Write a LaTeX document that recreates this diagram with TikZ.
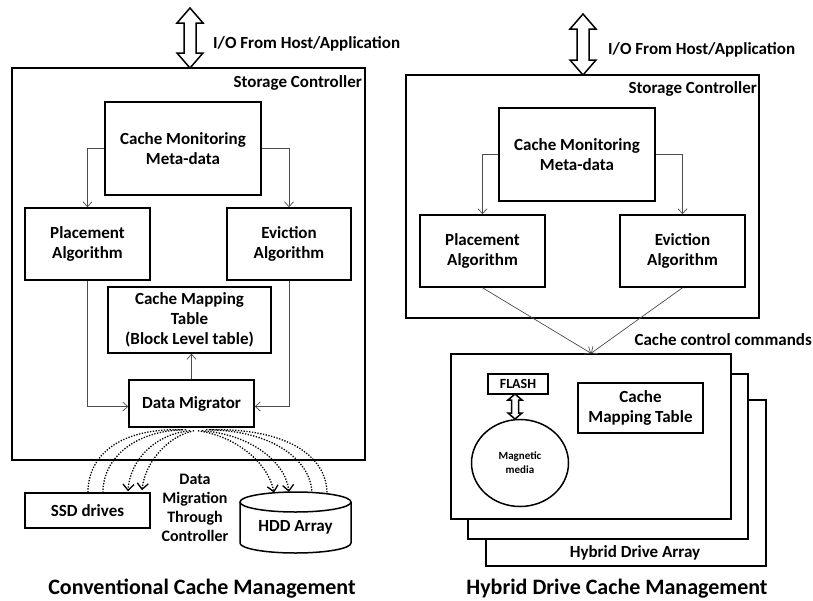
\documentclass[tikz,border=0pt]{standalone}
\usepackage{fontspec}
\setmainfont{Carlito}
\usetikzlibrary{arrows.meta,calc,shapes.geometric}
\tikzset{
  box/.style={draw, line width=1.5pt, align=center, inner sep=0pt, fill=white,
              font=\fontsize{17}{20}\selectfont\bfseries},
  lbl/.style={inner sep=0pt, align=center, font=\fontsize{17}{20}\selectfont\bfseries},
  ttl/.style={inner sep=0pt, font=\fontsize{22}{26}\selectfont\bfseries},
  arr/.style={draw=black!70, line width=0.7pt, -{Straight Barb[length=5pt,width=9pt]}},
  dots/.style={line width=1.3pt, dash pattern=on 1.3pt off 1.5pt},
  dotarr/.style={dots, -{Straight Barb[length=6pt,width=11pt]}},
  dblstyle/.style={draw, line width=1.5pt, fill=white, line join=miter},
}
% x, ytop, ybottom, half head width, half shaft width, head length
\newcommand\dblarr[6]{%
  \draw[dblstyle] (#1,#2) -- (#1+#4,#2+#6) -- (#1+#5,#2+#6) -- (#1+#5,#3-#6)
    -- (#1+#4,#3-#6) -- (#1,#3) -- (#1-#4,#3-#6) -- (#1-#5,#3-#6)
    -- (#1-#5,#2+#6) -- (#1-#4,#2+#6) -- cycle;}
\begin{document}
\begin{tikzpicture}[x=1pt,y=-1pt]
\useasboundingbox (0,0) rectangle (813,600);
% ================= LEFT =================
\node[box, minimum width=353, minimum height=392] (ctrlL) at (188.5,264) {};
\dblarr{190}{8}{68}{13}{6}{15}
\node[lbl, anchor=west] (ioL) at (213,44) {I/O From Host/Application};
\node[lbl, anchor=east] (scL) at (362,83) {Storage Controller};
\node[box, minimum width=156, minimum height=93] (cmmL) at (183,148.5) {Cache Monitoring\\Meta-data};
\node[box, minimum width=125, minimum height=72] (plL) at (87.5,244) {Placement\\Algorithm};
\node[box, minimum width=124, minimum height=72] (evL) at (289,244) {Eviction\\Algorithm};
\node[box, minimum width=163, minimum height=66] (cmtL) at (189.5,320) {Cache Mapping\\Table\\(Block Level table)};
\node[box, minimum width=125, minimum height=47] (dmL) at (191.5,403.5) {Data Migrator};
\draw[arr] (cmmL.west) -| (plL.north);
\draw[arr] (cmmL.east) -| (evL.north);
\draw[arr] (plL.south) |- ($(dmL.west)+(0,3)$);
\draw[arr] (evL.south) |- ($(dmL.east)+(0,3)$);
\draw[arr] (dmL.north) -- (dmL.north |- cmtL.south);
% drives
\node[box, minimum width=125, minimum height=35] (ssd) at (87.5,510.5) {SSD drives};
\draw[line width=1.5pt, fill=white] (240,502) -- (240,543) arc[start angle=180, end angle=0, x radius=55.5, y radius=10] -- (351,502);
\draw[line width=1.5pt] (295.5,502) ellipse[x radius=55.5, y radius=10];
\node[lbl, minimum width=111, minimum height=61] (hdd) at (295.5,527) {HDD Array};
\node[lbl, font=\fontsize{16}{19}\selectfont\bfseries] (dmtxt) at (195,508) {Data\\Migration\\Through\\Controller};
% dotted migration curves
\draw[dots] ($(dmL.south)+(-9.5,2)$) .. controls (120,428) and (88,455) .. ($(ssd.north)+(0.5,0)$);
\draw[dots] ($(dmL.south)+(-5.5,2)$) .. controls (135,430) and (103,458) .. ($(ssd.north)+(15.5,0)$);
\draw[dotarr] ($(dmL.south)+(-1.5,3)$) .. controls (155,434) and (130,460) .. ($(ssd.north)+(40.5,-1)$);
\draw[dotarr] ($(dmL.south)+(2.5,3)$) .. controls (168,436) and (145,462) .. ($(ssd.north)+(54.5,-2)$);
\draw[dotarr] ($(dmL.south)+(6.5,3)$) .. controls (235,436) and (268,462) .. ($(hdd.north)+(-21.5,-3.7)$);
\draw[dotarr] ($(dmL.south)+(10.5,3)$) .. controls (248,434) and (285,460) .. ($(hdd.north)+(-6.5,-4.4)$);
\draw[dots] ($(dmL.south)+(14.5,2)$) .. controls (270,430) and (310,458) .. ($(hdd.north)+(16.5,-4)$);
\draw[dots] ($(dmL.south)+(18.5,2)$) .. controls (285,428) and (327,455) .. ($(hdd.north)+(31.5,-2.7)$);
\node[ttl, anchor=base] (tL) at (202,594) {Conventional Cache Management};
% ================= RIGHT =================
\node[box, minimum width=353, minimum height=243] (ctrlR) at (582.5,196.5) {};
\dblarr{583}{14}{75}{13}{6}{15}
\node[lbl, anchor=west] (ioR) at (608,50) {I/O From Host/Application};
\node[lbl, anchor=east] (scR) at (757,89) {Storage Controller};
\node[box, minimum width=156, minimum height=93] (cmmR) at (577,154.5) {Cache Monitoring\\Meta-data};
\node[box, minimum width=125, minimum height=72] (plR) at (482.5,251) {Placement\\Algorithm};
\node[box, minimum width=125, minimum height=72] (evR) at (682.5,251) {Eviction\\Algorithm};
\draw[arr] (cmmR.west) -| (plR.north);
\draw[arr] (cmmR.east) -| (evR.north);
% hybrid drives
\node[box, minimum width=280, minimum height=166] (hd3) at (626,483) {};
\node[box, minimum width=280, minimum height=165] (hd2) at (608,456.5) {};
\node[box, minimum width=280, minimum height=165] (hd1) at (591,436.5) {};
\node[lbl] (hda) at (635,553) {Hybrid Drive Array};
\draw[arr] (plR.south) -- (hd1.north);
\draw[arr] (evR.south) -- (hd1.north);
\node[lbl, anchor=east] (ccc) at (812,340) {Cache control commands};
\node[box, minimum width=60, minimum height=20, font=\fontsize{14}{16}\selectfont\bfseries] (flash) at (518,384) {FLASH};
\node[draw, ellipse, line width=1.5pt, minimum width=97, minimum height=87, inner sep=0pt, align=center,
      font=\fontsize{11}{14}\selectfont\bfseries] (mag) at (520,463) {Magnetic\\media};
\dblarr{515}{394}{419}{7}{3.5}{6}
\node[box, minimum width=125, minimum height=50] (cmtR) at (640.5,408) {Cache\\Mapping Table};
\node[ttl, anchor=base] (tR) at (617,594) {Hybrid Drive Cache Management};
\end{tikzpicture}
\end{document}
